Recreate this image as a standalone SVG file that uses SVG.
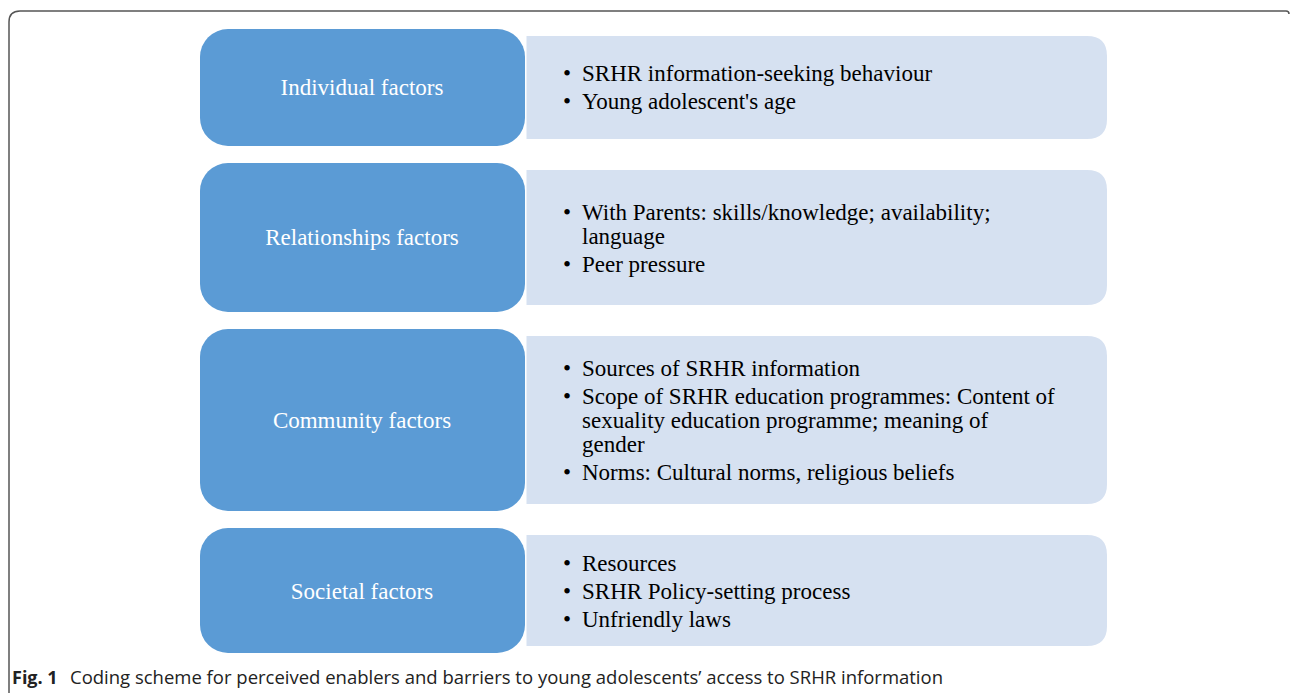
<svg xmlns="http://www.w3.org/2000/svg" width="1290" height="693" viewBox="0 0 1290 693">
<style>
.frame{fill:none;stroke:#555;stroke-width:1.5}
.hd{fill:#5b9bd5}
.bd{fill:#d6e1f1}
.ht{font-family:"Liberation Serif",serif;font-size:23px;fill:#fff;text-anchor:middle}
.bt{font-family:"Liberation Serif",serif;font-size:23px;fill:#000}
.cap{font-family:"Open Sans","Liberation Sans",sans-serif;font-size:18px;fill:#222}
</style>
<rect width="1290" height="693" fill="#fff"/>
<path class="frame" d="M9,693 V22 Q9,11 20,11 H1286 Q1289,11 1289,14"/>
<g id="individual">
<path class="bd" d="M526.5,36 H1087 Q1107,36 1107,56 V119 Q1107,139 1087,139 H526.5 Z"/>
<rect class="hd" x="200" y="29" width="325" height="117" rx="28"/>
<text class="ht" x="362" y="95">Individual factors</text>
<text class="bt" x="563" y="81">•</text><text class="bt" x="582" y="81">SRHR information-seeking behaviour</text>
<text class="bt" x="563" y="109">•</text><text class="bt" x="582" y="109">Young adolescent's age</text>
</g>
<g id="relationships">
<path class="bd" d="M526.5,170 H1087 Q1107,170 1107,190 V285 Q1107,305 1087,305 H526.5 Z"/>
<rect class="hd" x="200" y="163" width="325" height="149" rx="28"/>
<text class="ht" x="362" y="245">Relationships factors</text>
<text class="bt" x="563" y="220">•</text><text class="bt" x="582" y="220">With Parents: skills/knowledge; availability;</text>
<text class="bt" x="582" y="244">language</text>
<text class="bt" x="563" y="272">•</text><text class="bt" x="582" y="272">Peer pressure</text>
</g>
<g id="community">
<path class="bd" d="M526.5,336 H1087 Q1107,336 1107,356 V484 Q1107,504 1087,504 H526.5 Z"/>
<rect class="hd" x="200" y="329" width="325" height="182" rx="28"/>
<text class="ht" x="362" y="428">Community factors</text>
<text class="bt" x="563" y="376">•</text><text class="bt" x="582" y="376">Sources of SRHR information</text>
<text class="bt" x="563" y="404">•</text><text class="bt" x="582" y="404">Scope of SRHR education programmes: Content of</text>
<text class="bt" x="582" y="428">sexuality education programme; meaning of</text>
<text class="bt" x="582" y="452">gender</text>
<text class="bt" x="563" y="480">•</text><text class="bt" x="582" y="480">Norms: Cultural norms, religious beliefs</text>
</g>
<g id="societal">
<path class="bd" d="M526.5,535 H1087 Q1107,535 1107,555 V626 Q1107,646 1087,646 H526.5 Z"/>
<rect class="hd" x="200" y="528" width="325" height="125" rx="28"/>
<text class="ht" x="362" y="599">Societal factors</text>
<text class="bt" x="563" y="571">•</text><text class="bt" x="582" y="571">Resources</text>
<text class="bt" x="563" y="599">•</text><text class="bt" x="582" y="599">SRHR Policy-setting process</text>
<text class="bt" x="563" y="627">•</text><text class="bt" x="582" y="627">Unfriendly laws</text>
</g>
<g id="connectors"></g>
<text class="cap" x="12" y="684" font-weight="bold">Fig. 1</text>
<text class="cap" x="70" y="684" textLength="873" lengthAdjust="spacingAndGlyphs">Coding scheme for perceived enablers and barriers to young adolescents’ access to SRHR information</text>
</svg>
